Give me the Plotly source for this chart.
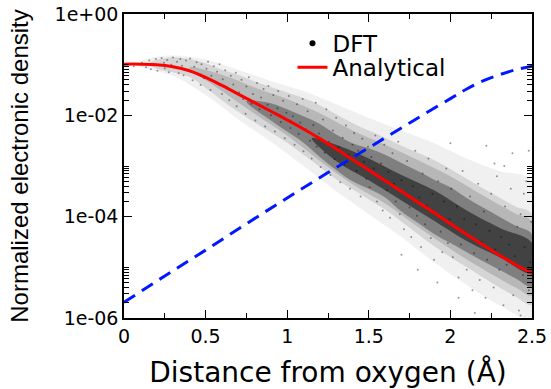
import plotly.graph_objects as go

# ---------------- data (log10 of normalized electronic density) ----------------
# Analytical curve (red)
analytic_x = [0.0, 0.1, 0.2, 0.3, 0.4, 0.5, 0.6, 0.7, 0.8, 0.9, 1.0, 1.1, 1.2, 1.3, 1.4, 1.5, 1.6,
              1.7, 1.8, 1.9, 2.0, 2.1, 2.2, 2.3, 2.4, 2.5]
analytic_log = [-0.99, -0.99, -1.00, -1.04, -1.12, -1.25, -1.41, -1.58, -1.75, -1.92, -2.09, -2.27,
                -2.46, -2.66, -2.87, -3.08, -3.29, -3.50, -3.71, -3.92, -4.14, -4.35, -4.56, -4.76,
                -4.95, -5.12]

# Blue dashed curve
blue_x = [0.0, 0.25, 0.5, 0.75, 1.0, 1.25, 1.5, 1.75, 2.0, 2.1, 2.2, 2.3, 2.4, 2.5]
blue_log = [-5.69, -5.17, -4.66, -4.14, -3.63, -3.13, -2.64, -2.15, -1.67, -1.48, -1.32, -1.20, -1.10, -1.03]

# DFT cloud extents: sparse fringe, halo, middle, dense core, darkest centre
sparse_x = [0.08, 0.12, 0.3, 0.5, 0.7, 0.9, 1.1, 1.3, 1.5, 1.7, 1.9, 2.1, 2.3, 2.5]
sparse_upper = [-0.98, -0.90, -0.82, -0.90, -1.10, -1.32, -1.52, -1.78, -2.05, -2.30, -2.55, -2.85, -3.10, -3.30]
sparse_lower = [-0.98, -1.06, -1.22, -1.60, -2.08, -2.52, -3.00, -3.50, -3.95, -4.40, -4.90, -5.35, -5.75, -6.00]

halo_x = [0.15, 0.22, 0.3, 0.4, 0.5, 0.6, 0.7, 0.8, 0.9, 1.0, 1.1, 1.2, 1.3, 1.4, 1.5, 1.6, 1.7, 1.8,
          1.9, 2.0, 2.1, 2.2, 2.3, 2.4, 2.5]
halo_upper = [-0.98, -0.89, -0.86, -0.89, -0.97, -1.10, -1.20, -1.33, -1.44, -1.55, -1.66, -1.80, -1.98,
              -2.15, -2.30, -2.44, -2.60, -2.74, -2.88, -3.06, -3.25, -3.44, -3.62, -3.80, -3.95]
halo_lower = [-0.98, -1.10, -1.15, -1.24, -1.46, -1.70, -1.93, -2.14, -2.34, -2.54, -2.78, -3.02, -3.26,
              -3.46, -3.66, -3.86, -4.10, -4.34, -4.58, -4.80, -5.00, -5.20, -5.40, -5.58, -5.74]

mid_x = [0.4, 0.6, 0.8, 1.0, 1.2, 1.4, 1.6, 1.8, 2.0, 2.2, 2.4, 2.5]
mid_upper = [-1.05, -1.20, -1.45, -1.68, -1.96, -2.30, -2.58, -2.88, -3.20, -3.58, -3.94, -4.10]
mid_lower = [-1.05, -1.52, -1.97, -2.40, -2.90, -3.36, -3.74, -4.20, -4.64, -5.04, -5.40, -5.56]

core_x = [0.75, 0.9, 1.0, 1.1, 1.2, 1.3, 1.4, 1.5, 1.6, 1.7, 1.8, 1.9, 2.0, 2.1, 2.2, 2.3, 2.4, 2.5]
core_upper = [-1.72, -1.76, -1.88, -2.02, -2.17, -2.38, -2.55, -2.65, -2.78, -2.94, -3.10, -3.27, -3.42,
              -3.63, -3.82, -4.00, -4.18, -4.35]
core_lower = [-1.72, -2.10, -2.32, -2.54, -2.82, -3.08, -3.30, -3.45, -3.62, -3.90, -4.12, -4.34, -4.52,
              -4.70, -4.88, -5.05, -5.22, -5.38]

inner_x = [1.15, 1.3, 1.5, 1.7, 1.9, 2.1, 2.3, 2.5]
inner_upper = [-2.45, -2.58, -2.85, -3.18, -3.48, -3.88, -4.22, -4.52]
inner_lower = [-2.45, -2.90, -3.28, -3.68, -4.08, -4.48, -4.80, -5.12]

# individual DFT points (x in Å, log10 density)
dft_points = [
    (0.06, -1.03), (0.11, -0.96), (0.135, -1.05), (0.155, -0.92), (0.165, -1.09), (0.18, -0.98),
    (0.195, -0.89), (0.205, -1.12), (0.215, -1.01), (0.23, -0.87), (0.245, -0.96), (0.25, -1.07),
    (0.265, -0.91), (0.275, -1.15), (0.29, -1.00), (0.30, -0.86), (0.31, -1.05), (0.325, -0.94),
    (0.335, -1.17), (0.345, -0.89), (0.355, -1.02), (0.365, -1.21), (0.38, -0.92), (0.395, -1.10),
    (0.405, -0.88), (0.42, -1.31), (0.43, -1.04), (0.445, -0.95), (0.455, -1.19), (0.47, -1.40),
    (0.475, -0.99), (0.49, -1.27), (0.505, -1.08), (0.515, -0.94), (0.53, -1.50), (0.535, -1.22),
    (0.55, -1.03), (0.565, -1.36), (0.57, -1.14), (0.585, -0.99), (0.60, -1.58), (0.605, -1.29),
    (0.62, -1.11), (0.63, -1.47), (0.645, -1.70), (0.655, -1.22), (0.67, -1.39), (0.685, -1.16),
    (0.69, -1.82), (0.705, -1.55), (0.72, -1.30), (0.73, -1.68), (0.745, -1.97), (0.75, -1.43),
    (0.765, -1.25), (0.78, -1.77), (0.79, -1.58), (0.805, -2.10), (0.815, -1.36), (0.83, -1.88),
    (0.84, -1.65), (0.855, -1.48), (0.865, -2.22), (0.88, -1.79), (0.885, -1.42), (0.90, -2.00),
    (0.915, -1.60), (0.925, -2.32), (0.94, -1.86), (0.945, -1.52), (0.96, -2.13), (0.975, -1.71),
    (0.985, -2.45), (0.995, -1.95), (1.01, -1.62), (1.02, -2.25), (1.035, -2.02), (1.045, -2.58),
    (1.06, -1.78), (1.07, -2.37), (1.08, -2.14), (1.095, -1.68), (1.10, -2.71), (1.115, -2.28),
    (1.125, -1.92), (1.14, -2.50), (1.15, -2.85), (1.16, -2.19), (1.175, -1.75), (1.18, -2.62),
    (1.195, -2.36), (1.205, -3.02), (1.22, -2.08), (1.23, -2.74), (1.24, -1.88), (1.255, -2.52),
    (1.265, -3.18), (1.28, -2.30), (1.29, -2.86), (1.30, -2.05), (1.315, -2.63), (1.325, -3.32),
    (1.34, -2.44), (1.35, -2.97), (1.36, -2.20), (1.375, -2.78), (1.385, -3.45), (1.40, -2.58),
    (1.41, -2.35), (1.425, -3.10), (1.435, -2.70), (1.45, -3.60), (1.46, -2.46), (1.47, -2.92),
    (1.485, -3.25), (1.495, -2.62), (1.505, -3.42), (1.515, -2.82), (1.53, -3.05), (1.54, -2.40),
    (1.55, -3.70), (1.56, -3.22), (1.575, -2.95), (1.585, -3.88), (1.595, -2.58), (1.61, -3.48),
    (1.62, -3.12), (1.63, -4.02), (1.645, -2.75), (1.655, -3.35), (1.665, -3.70), (1.68, -2.52),
    (1.69, -3.95), (1.70, -3.28), (1.715, -4.25), (1.725, -3.55), (1.735, -2.90), (1.75, -3.82),
    (1.76, -4.40), (1.77, -3.40), (1.785, -2.70), (1.795, -3.98), (1.81, -3.62), (1.82, -4.60),
    (1.83, -3.15), (1.845, -4.15), (1.855, -3.78), (1.865, -2.85), (1.88, -4.42), (1.89, -3.55),
    (1.90, -4.85), (1.915, -3.95), (1.925, -3.30), (1.94, -4.30), (1.95, -4.70), (1.96, -3.70),
    (1.975, -3.05), (1.985, -4.52), (1.995, -4.05), (2.005, -3.45), (2.015, -4.80), (2.03, -4.20),
    (2.04, -3.80), (2.05, -5.20), (2.065, -4.55), (2.075, -3.10), (2.085, -4.05), (2.10, -5.05),
    (2.11, -4.38), (2.12, -3.60), (2.135, -5.45), (2.145, -4.72), (2.155, -4.15), (2.17, -3.35),
    (2.18, -5.25), (2.19, -4.50), (2.205, -3.90), (2.215, -5.60), (2.225, -4.85), (2.24, -4.28),
    (2.25, -3.55), (2.265, -5.40), (2.275, -4.65), (2.285, -3.20), (2.30, -5.05), (2.31, -4.40),
    (2.325, -5.75), (2.335, -3.80), (2.345, -4.95), (2.36, -4.55), (2.37, -3.45), (2.385, -5.55),
    (2.395, -4.78), (2.41, -4.20), (2.42, -5.85), (2.43, -3.95), (2.445, -5.15), (2.455, -4.60),
    (2.465, -3.30), (2.48, -5.45), (2.49, -4.90), (2.495, -4.10),
    (2.38, -2.75), (2.27, -2.95), (2.45, -3.55), (2.33, -3.00), (2.48, -2.70), (2.15, -5.90),
    (2.05, -5.60), (1.92, -5.30), (1.80, -5.05), (2.22, -2.60), (2.00, -2.55), (1.70, -4.75),
    (2.43, -5.95),
]

# axis tick labels
ytick_vals = [1e-6, 1e-4, 1e-2, 1e0]
ytick_text = ["1e-06", "1e-04", "1e-02", "1e+00"]
xtick_vals = [0, 0.5, 1, 1.5, 2, 2.5]
xtick_text = ["0", "0.5", "1", "1.5", "2", "2.5"]

# ---------------- figure ----------------
def tolin(vals):
    return [10 ** v for v in vals]

fig = go.Figure()

def band(xs, up, lo, color):
    fig.add_trace(go.Scatter(
        x=list(xs) + list(xs)[::-1], y=tolin(up) + tolin(lo)[::-1],
        fill="toself", fillcolor=color, mode="lines", line=dict(width=0, shape="spline", smoothing=1),
        hoverinfo="skip", showlegend=False, legendgroup="dft"))

band(sparse_x, sparse_upper, sparse_lower, "rgba(0,0,0,0.06)")
band(halo_x, halo_upper, halo_lower, "rgba(0,0,0,0.11)")
band(mid_x, mid_upper, mid_lower, "rgba(0,0,0,0.14)")
band(core_x, core_upper, core_lower, "rgba(0,0,0,0.30)")
band(inner_x, inner_upper, inner_lower, "rgba(0,0,0,0.48)")

dft_x = [p[0] for p in dft_points]
dft_y = tolin([p[1] for p in dft_points])
fig.add_trace(go.Scatter(x=dft_x, y=dft_y, mode="markers", showlegend=False, legendgroup="dft",
                         hoverinfo="skip", marker=dict(color="black", size=2, opacity=0.4)))
# legend entry for the DFT cloud
fig.add_trace(go.Scatter(x=[None], y=[None], mode="markers", name="DFT", legendgroup="dft",
                         legend="legend", marker=dict(color="black", size=6)))

fig.add_trace(go.Scatter(x=blue_x, y=tolin(blue_log), mode="lines", showlegend=False,
                         line=dict(color="#0018ff", width=3, dash="13px,8px", shape="spline")))
fig.add_trace(go.Scatter(x=analytic_x, y=tolin(analytic_log), mode="lines", name="Analytical",
                         legend="legend2", line=dict(color="#ff0000", width=3, shape="spline")))

minor_y = [b * k for b in (1e-6, 1e-4, 1e-2) for k in range(2, 11)]

axis_common = dict(showline=True, linecolor="black", linewidth=1.5, mirror="ticks", ticks="inside",
                   ticklen=8, tickwidth=1.3, tickcolor="black", showgrid=False, zeroline=False,
                   ticklabeloverflow="allow",
                   tickfont=dict(family="DejaVu Sans", size=19, color="black"))

fig.update_xaxes(range=[0, 2.5], tickmode="array", tickvals=xtick_vals, ticktext=xtick_text,
                 minor=dict(tickmode="array", tickvals=[0.25, 0.75, 1.25, 1.75, 2.25], ticks="inside",
                            ticklen=5, tickwidth=1.3, tickcolor="black"),
                 title=dict(text="Distance from oxygen (Å)", standoff=18,
                            font=dict(family="DejaVu Sans", size=28, color="black")),
                 **axis_common)
fig.update_yaxes(type="log", range=[-6, 0], tickmode="array", tickvals=ytick_vals, ticktext=ytick_text,
                 minor=dict(tickmode="array", tickvals=minor_y, ticks="inside",
                            ticklen=5, tickwidth=1.3, tickcolor="black"),
                 title=dict(text="Normalized electronic density", standoff=19,
                            font=dict(family="Liberation Sans", size=24, color="black")),
                 **axis_common)

legend_style = dict(xanchor="left", yanchor="top", bgcolor="rgba(0,0,0,0)",
                    font=dict(family="DejaVu Sans", size=23, color="black"), itemwidth=30)

fig.update_layout(
    width=551, height=389,
    margin=dict(l=124, r=19, t=14, b=71, autoexpand=False),
    paper_bgcolor="white", plot_bgcolor="white",
    legend=dict(x=0.413, y=0.974, **legend_style),
    legend2=dict(x=0.413, y=0.895, **legend_style),
)

# remove the browser's default 8 px page margin so the figure fills the window exactly
fig.write_html("out.html", config={"displayModeBar": False},
               post_script="document.body.style.margin='0';")
